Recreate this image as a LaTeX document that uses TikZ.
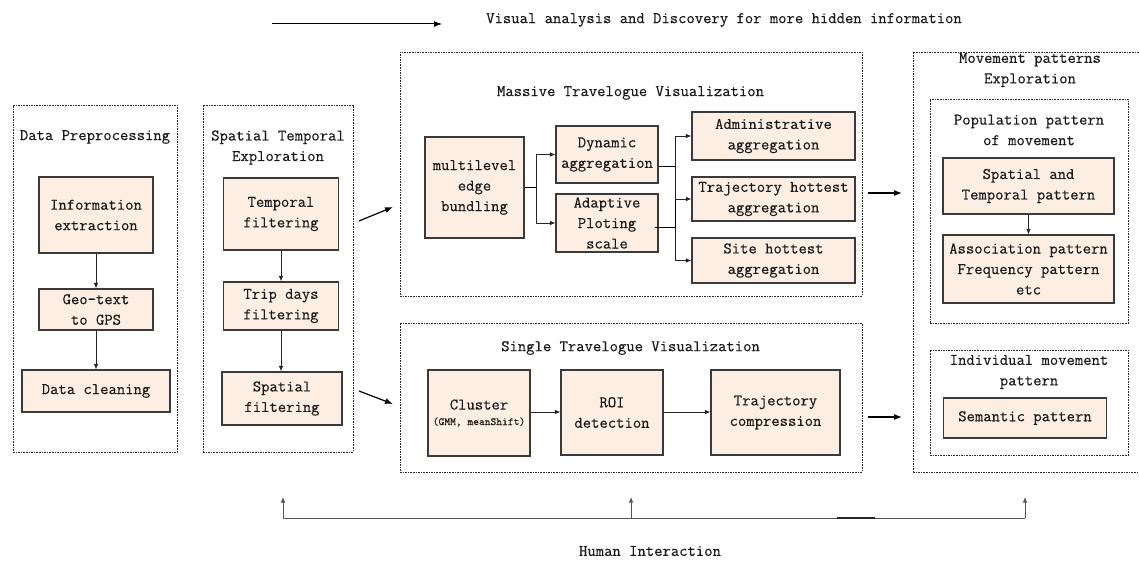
\documentclass[tikz,border=0pt]{standalone}
\usepackage{fontspec}
\newfontfamily\reffont{Latin Modern Mono}[FakeBold=0.35]
\usetikzlibrary{arrows.meta}
\definecolor{boxfill}{HTML}{FDEEE3}
\definecolor{boxline}{HTML}{3A3A3A}
\definecolor{grayline}{HTML}{555555}
\definecolor{txtcol}{HTML}{1A1A1A}
\begin{document}
\begin{tikzpicture}[x=1pt,y=-1pt,
  txt/.style={font=\reffont\fontsize{16.2}{20.5}\selectfont, align=center, text=txtcol},
  bx/.style={txt, draw=boxline, line width=1.1pt, fill=boxfill, inner sep=0pt},
  grp/.style={draw=black!85, line width=0.7pt, dash pattern=on 1.6pt off 1pt, inner sep=0pt},
  ttl/.style={txt, inner sep=0pt},
  sar/.style={-{Latex[length=5.5pt,width=4.5pt]}, line width=0.8pt, draw=black!85},
  bar/.style={-{Latex[length=8pt,width=6pt]}, line width=1.2pt},
]
\clip (0,0) rectangle (1139,561);
\useasboundingbox (0,0) rectangle (1139,561);

% top arrow and caption
\coordinate (ta1) at (272,24);
\coordinate (ta2) at (442,24);
\draw[bar, line width=1pt] (ta1) -- (ta2);
\node[ttl] (toptext) at (724,20) {Visual analysis and Discovery for more hidden information};

% Data Preprocessing
\node[grp, minimum width=164, minimum height=347] (dp) at (95,278.5) {};
\node[ttl] (dpt) at (95,137) {Data Preprocessing};
\node[bx, minimum width=114, minimum height=76] (info) at (96,215) {Information\\extraction};
\node[bx, minimum width=114, minimum height=41] (geo) at (96,309.5) {Geo-text\\to GPS};
\node[bx, minimum width=148, minimum height=42] (clean) at (96,391) {Data cleaning};
\draw[sar] (info) -- (geo);
\draw[sar] (geo) -- (clean);

% Spatial Temporal Exploration
\node[grp, minimum width=150, minimum height=347] (st) at (278,278.5) {};
\node[ttl] (stt) at (278,147.5) {Spatial Temporal\\Exploration};
\node[bx, minimum width=115, minimum height=72] (temp) at (281,214) {Temporal\\filtering};
\node[bx, minimum width=115, minimum height=48] (trip) at (281,306) {Trip days\\filtering};
\node[bx, minimum width=120, minimum height=53] (spf) at (282,398.5) {Spatial\\filtering};
\draw[sar] (temp) -- (trip);
\draw[sar] (trip.south) -- (trip.south |- spf.north);

% arrows to visualization blocks
\coordinate (a1s) at (359,221);
\coordinate (a1e) at (393,207);
\coordinate (a2s) at (359,391);
\coordinate (a2e) at (393,404);
\draw[bar] (a1s) -- (a1e);
\draw[bar] (a2s) -- (a2e);

% Massive Travelogue Visualization
\node[grp, minimum width=462, minimum height=244] (mass) at (631,174) {};
\node[ttl] (masst) at (630.5,93) {Massive Travelogue Visualization};
\node[bx, minimum width=99, minimum height=101] (ml) at (474.5,187.5) {multilevel\\edge\\bundling};
\node[bx, minimum width=102, minimum height=57] (dyn) at (607,154.5) {Dynamic\\aggregation};
\node[bx, minimum width=102, minimum height=58] (adp) at (607,223) {Adaptive\\Ploting\\scale};
\node[bx, minimum width=163, minimum height=48] (adm) at (773.5,136) {Administrative\\aggregation};
\node[bx, minimum width=163, minimum height=44] (trj) at (773.5,199) {Trajectory hottest\\aggregation};
\node[bx, minimum width=163, minimum height=45] (site) at (773.5,260.5) {Site hottest\\aggregation};
\coordinate (j1) at (536,187.5);
\draw[line width=0.8pt] (ml.east |- j1) -- (j1);
\draw[sar] (j1) |- (dyn.west);
\draw[sar] (j1) |- (adp.west);
\coordinate (j2) at (675,166);
\coordinate (j3) at (675,227);
\draw[line width=0.8pt] ([yshift=-11.5pt]dyn.east) -- (j2);
\draw[line width=0.8pt] ([yshift=-4pt,xshift=-4pt]adp.east) -- (j3);
\draw[line width=0.8pt] (j2) -- (j3);
\draw[sar] (j2) |- (adm.west);
\draw[sar] (j2) |- (trj.west);
\draw[sar] (j3) |- (site.west);

% Single Travelogue Visualization
\node[grp, minimum width=462, minimum height=149] (sing) at (631,397.5) {};
\node[ttl] (singt) at (630.5,348) {Single Travelogue Visualization};
\node[bx, minimum width=102, minimum height=86] (clu) at (479,413) {Cluster\\[-5pt]{\fontsize{11}{12}\selectfont (GMM, meanShift)}};
\node[bx, minimum width=102, minimum height=85] (roi) at (612,412.5) {ROI\\detection};
\node[bx, minimum width=129, minimum height=85] (tc) at (775.5,412.5) {Trajectory\\compression};
\draw[sar] (clu.east |- 0,412) -- (roi.west |- 0,412);
\draw[sar] (roi.east |- 0,412) -- (tc.west |- 0,412);

% arrows to movement patterns
\coordinate (b1s) at (868,193);
\coordinate (b1e) at (902,193);
\coordinate (b2s) at (868,417);
\coordinate (b2e) at (902,417);
\draw[bar] (b1s) -- (b1e);
\draw[bar] (b2s) -- (b2e);

% Movement patterns Exploration
\node[grp, minimum width=250, minimum height=420] (mv) at (1038,262) {};
\node[ttl] (mvt) at (1030,70) {Movement patterns\\Exploration};
\node[grp, minimum width=198, minimum height=224] (pop) at (1029,211) {};
\node[ttl] (popt) at (1029,130) {Population pattern\\of movement};
\node[bx, minimum width=171, minimum height=56] (stp) at (1028.5,186) {Spatial and\\Temporal pattern};
\node[bx, minimum width=171, minimum height=68] (asc) at (1028.5,269) {Association pattern\\Frequency pattern\\etc};
\draw[sar] (stp) -- (asc);
\node[grp, minimum width=198, minimum height=105] (ind) at (1029,402.5) {};
\node[ttl] (indt) at (1029,372) {Individual movement\\pattern};
\node[bx, minimum width=163, minimum height=40] (sem) at (1025,418) {Semantic pattern};

% Human Interaction feedback
\coordinate (h1) at (283,518);
\coordinate (h2) at (631,518);
\coordinate (h3) at (1025,518);
\coordinate (u1) at (283,497);
\coordinate (u2) at (631,497);
\coordinate (u3) at (1025,497);
\draw[grayline, line width=0.9pt] (h1) -- (h3);
\draw[black!85, line width=1.4pt] (837,518) -- (875,518);
\draw[sar, draw=grayline] (h1) -- (u1);
\draw[sar, draw=grayline] (h2) -- (u2);
\draw[sar, draw=grayline] (h3) -- (u3);
\node[ttl] (human) at (650,551) {Human Interaction};
\end{tikzpicture}
\end{document}
